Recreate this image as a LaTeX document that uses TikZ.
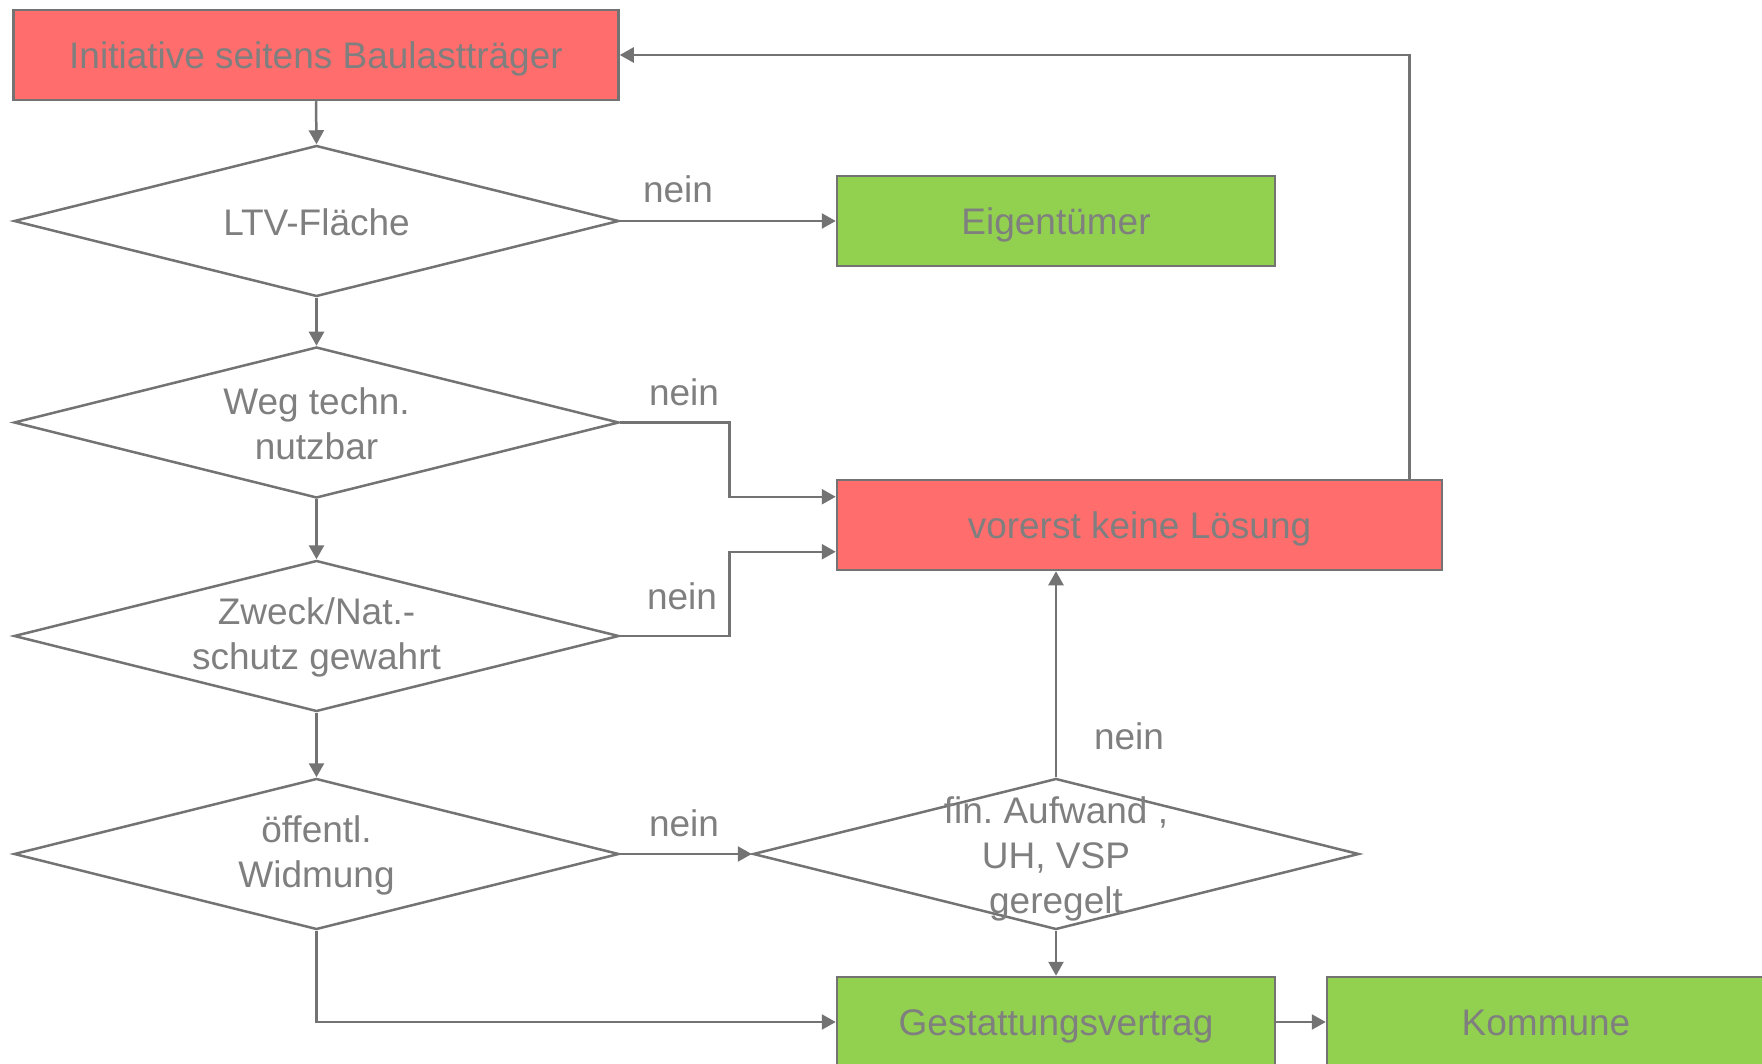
\documentclass[tikz,border=0pt]{standalone}
\usepackage{fontspec}
\setmainfont{Liberation Sans}
\usetikzlibrary{shapes.geometric,arrows.meta,calc}
\definecolor{lc}{HTML}{737373}
\definecolor{tc}{HTML}{7F7F7F}
\definecolor{redf}{HTML}{FF6D6D}
\definecolor{greenf}{HTML}{92D050}
\frenchspacing
\begin{document}
\begin{tikzpicture}[x=1pt,y=-1pt,
  every node/.style={font=\fontsize{37}{45}\selectfont\frenchspacing, text=tc},
  boxr/.style={draw=lc, line width=2.5pt, fill=redf, inner sep=0pt, minimum height=90pt, text height=26.5pt, text depth=0pt},
  boxg/.style={draw=lc, line width=2.5pt, fill=greenf, inner sep=0pt, minimum height=90pt, minimum width=438pt, text height=26.5pt, text depth=0pt},
  dia/.style={diamond, draw=lc, line width=2.5pt, inner sep=0pt, minimum width=605pt, minimum height=151pt},
  dtxt/.style={align=center, inner sep=0pt},
  arr/.style={draw=lc, line width=2.5pt, -{Triangle[length=14pt,width=15pt]}},
  neinlbl/.style={anchor=base, inner sep=0pt}
]
\useasboundingbox (0,0) rectangle (1762,1064);
\clip (0,0) rectangle (1762,1064);

% boxes
\node[boxr, minimum width=605pt] (init) at (316,55) {Initiative seitens Baulastträger};
\node[boxg] (eig) at (1056,221) {Eigentümer};
\node[boxr, minimum width=605pt] (vor) at (1139.5,525) {vorerst keine Lösung};
\node[boxg] (ges) at (1056,1022) {Gestattungsvertrag};
\node[boxg] (kom) at (1546,1022) {Kommune};

% diamonds
\node[dia] (ltv) at (316.5,221) {};
\node[dtxt] at ([yshift=-1.5pt]ltv.center) {LTV-Fläche};
\node[dia] (weg) at (316.5,422.5) {};
\node[dtxt] at ([yshift=-1.5pt]weg.center) {Weg techn.\\nutzbar};
\node[dia] (zw) at (316.5,636) {};
\node[dtxt] at ([yshift=-1.5pt]zw.center) {Zweck/Nat.-\\schutz gewahrt};
\node[dia] (oef) at (316.5,854) {};
\node[dtxt] at ([yshift=-1.5pt]oef.center) {öffentl.\\Widmung};
\node[dia, minimum width=606pt] (fin) at (1056,854) {};
\node[dtxt] at ([yshift=-4.5pt]fin.center) {fin. Aufwand ,\\UH, VSP\\geregelt};

% connectors
\draw[arr] (init.south) -- (ltv.north);
\draw[arr] (ltv.east) -- (eig.west);
\draw[arr] (ltv.south) -- (weg.north);
\draw[arr] (weg.east) -- ++(109,0) |- ([yshift=-18pt]vor.north west);
\draw[arr] (weg.south) -- (zw.north);
\draw[arr] (zw.east) -- ++(109,0) |- ([yshift=19.5pt]vor.south west);
\draw[arr] (zw.south) -- (oef.north);
\draw[arr] (oef.east) -- (fin.west);
\draw[arr] (oef.south) |- (ges.west);
\draw[arr] (fin.north) -- (fin.north |- vor.south);
\draw[arr] (fin.south) -- (ges.north);
\draw[arr] (ges.east) -- (kom.west);
\draw[arr] ([xshift=-34pt]vor.north east) |- (init.east);

% labels
\node[neinlbl] at (678,202.5) {nein};
\node[neinlbl] at (684,405.5) {nein};
\node[neinlbl] at (682,609.5) {nein};
\node[neinlbl] at (684,836.5) {nein};
\node[neinlbl] at (1129,749.5) {nein};
\end{tikzpicture}
\end{document}
